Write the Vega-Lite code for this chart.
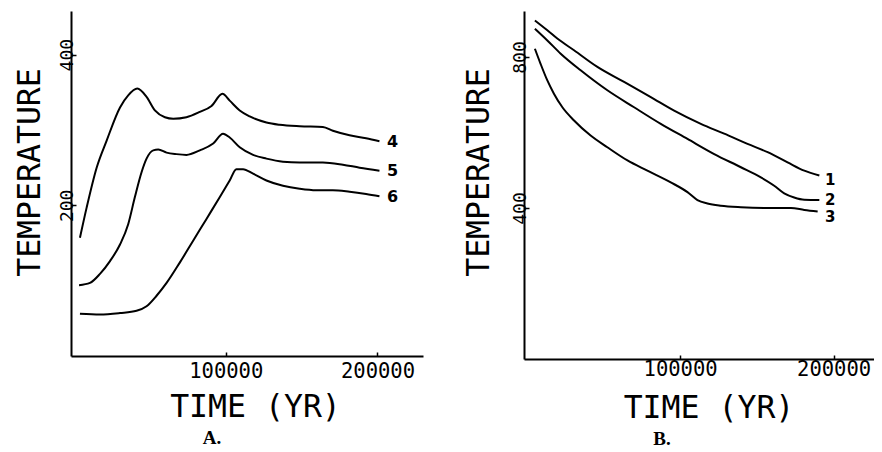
{
  "$schema": "https://vega.github.io/schema/vega-lite/v6.json",
  "padding": {"left": 14, "top": 11, "right": 0, "bottom": 0},
  "background": "white",
  "spacing": 101,
  "bounds": "flush",
  "config": {
    "view": {"stroke": null},
    "axis": {"grid": false, "domainColor": "black", "domainWidth": 2, "tickColor": "black", "tickWidth": 1.5, "labelColor": "black", "titleColor": "black", "labelFont": "DejaVu Sans Mono", "titleFont": "DejaVu Sans Mono", "titleFontWeight": "normal", "labelFlush": false, "labelOverlap": false},
    "axisX": {"labelFontSize": 20.5, "titleFontSize": 31.5, "tickSize": -4, "labelBaseline": "alphabetic", "labelPadding": 25, "titleX": 184, "titleY": 60, "titleBaseline": "alphabetic", "titleAlign": "center"},
    "axisY": {"labelAngle": 270, "labelFontSize": 18, "labelBaseline": "alphabetic", "labelAlign": "center", "tickSize": -5, "labelPadding": 4, "titleFontSize": 31.5, "titleAngle": 270, "titleBaseline": "alphabetic", "titleAlign": "center", "titleX": -32, "titleY": 161}
  },
  "hconcat": [
    {
      "width": 352,
      "height": 345,
      "title": {"text": "A.", "orient": "bottom", "anchor": "middle", "dx": -35, "offset": 6, "font": "Liberation Serif", "fontWeight": "bold", "fontSize": 19, "color": "black"},
      "layer": [
        {
          "data": {"values": [
            {"curve": "4", "time": 3900, "temperature": 157}, {"curve": "4", "time": 8300, "temperature": 197}, {"curve": "4", "time": 14900, "temperature": 250}, {"curve": "4", "time": 21500, "temperature": 286}, {"curve": "4", "time": 30300, "temperature": 330}, {"curve": "4", "time": 35700, "temperature": 346}, {"curve": "4", "time": 41700, "temperature": 355}, {"curve": "4", "time": 47800, "temperature": 344}, {"curve": "4", "time": 53300, "temperature": 326}, {"curve": "4", "time": 59900, "temperature": 317}, {"curve": "4", "time": 65400, "temperature": 315}, {"curve": "4", "time": 74100, "temperature": 317}, {"curve": "4", "time": 82900, "temperature": 324}, {"curve": "4", "time": 90600, "temperature": 332}, {"curve": "4", "time": 97800, "temperature": 348}, {"curve": "4", "time": 102600, "temperature": 339}, {"curve": "4", "time": 109200, "temperature": 326}, {"curve": "4", "time": 115800, "temperature": 318}, {"curve": "4", "time": 126800, "temperature": 310}, {"curve": "4", "time": 135500, "temperature": 307}, {"curve": "4", "time": 148700, "temperature": 305}, {"curve": "4", "time": 164000, "temperature": 304}, {"curve": "4", "time": 170600, "temperature": 299}, {"curve": "4", "time": 181600, "temperature": 293}, {"curve": "4", "time": 192500, "temperature": 289}, {"curve": "4", "time": 201300, "temperature": 285},
            {"curve": "5", "time": 3300, "temperature": 94}, {"curve": "5", "time": 10500, "temperature": 97}, {"curve": "5", "time": 17100, "temperature": 109}, {"curve": "5", "time": 23700, "temperature": 126}, {"curve": "5", "time": 30300, "temperature": 148}, {"curve": "5", "time": 35700, "temperature": 175}, {"curve": "5", "time": 40100, "temperature": 211}, {"curve": "5", "time": 44500, "temperature": 244}, {"curve": "5", "time": 47800, "temperature": 262}, {"curve": "5", "time": 52200, "temperature": 273}, {"curve": "5", "time": 55500, "temperature": 274}, {"curve": "5", "time": 61000, "temperature": 270}, {"curve": "5", "time": 67500, "temperature": 268}, {"curve": "5", "time": 74100, "temperature": 267}, {"curve": "5", "time": 82900, "temperature": 273}, {"curve": "5", "time": 91700, "temperature": 282}, {"curve": "5", "time": 98200, "temperature": 295}, {"curve": "5", "time": 102600, "temperature": 290}, {"curve": "5", "time": 109200, "temperature": 277}, {"curve": "5", "time": 118000, "temperature": 267}, {"curve": "5", "time": 126800, "temperature": 262}, {"curve": "5", "time": 137700, "temperature": 258}, {"curve": "5", "time": 148700, "temperature": 257}, {"curve": "5", "time": 164000, "temperature": 257}, {"curve": "5", "time": 177200, "temperature": 254}, {"curve": "5", "time": 188200, "temperature": 250}, {"curve": "5", "time": 201300, "temperature": 246},
            {"curve": "6", "time": 3900, "temperature": 56}, {"curve": "6", "time": 17100, "temperature": 55}, {"curve": "6", "time": 30300, "temperature": 57}, {"curve": "6", "time": 41200, "temperature": 60}, {"curve": "6", "time": 47800, "temperature": 66}, {"curve": "6", "time": 54400, "temperature": 80}, {"curve": "6", "time": 61000, "temperature": 97}, {"curve": "6", "time": 69700, "temperature": 124}, {"curve": "6", "time": 78500, "temperature": 153}, {"curve": "6", "time": 87300, "temperature": 182}, {"curve": "6", "time": 96100, "temperature": 211}, {"curve": "6", "time": 102600, "temperature": 233}, {"curve": "6", "time": 107000, "temperature": 248}, {"curve": "6", "time": 111400, "temperature": 248}, {"curve": "6", "time": 118000, "temperature": 242}, {"curve": "6", "time": 126800, "temperature": 233}, {"curve": "6", "time": 137700, "temperature": 226}, {"curve": "6", "time": 148700, "temperature": 222}, {"curve": "6", "time": 159600, "temperature": 220}, {"curve": "6", "time": 170600, "temperature": 220}, {"curve": "6", "time": 181600, "temperature": 218}, {"curve": "6", "time": 192500, "temperature": 215}, {"curve": "6", "time": 201300, "temperature": 212}
          ]},
          "mark": {"type": "line", "color": "black", "strokeWidth": 2, "interpolate": "monotone"},
          "encoding": {
            "x": {"field": "time", "type": "quantitative", "scale": {"domain": [-2000, 230000], "nice": false, "zero": false}, "axis": {"title": "TIME (YR)", "values": [100000, 200000], "format": "d"}},
            "y": {"field": "temperature", "type": "quantitative", "scale": {"domain": [0, 458], "nice": false}, "axis": {"title": "TEMPERATURE", "values": [200, 400], "format": "d"}},
            "detail": {"field": "curve"}
          }
        },
        {
          "data": {"values": [
            {"time": 210000, "temperature": 284, "label": "4"},
            {"time": 210000, "temperature": 245, "label": "5"},
            {"time": 210000, "temperature": 211, "label": "6"}
          ]},
          "mark": {"type": "text", "font": "DejaVu Sans", "fontWeight": "bold", "fontSize": 16, "align": "center", "baseline": "middle", "color": "black"},
          "encoding": {
            "x": {"field": "time", "type": "quantitative"},
            "y": {"field": "temperature", "type": "quantitative"},
            "text": {"field": "label"}
          }
        }
      ]
    },
    {
      "width": 350,
      "height": 348,
      "title": {"text": "B.", "orient": "bottom", "anchor": "middle", "dx": -37, "offset": 6, "font": "Liberation Serif", "fontWeight": "bold", "fontSize": 19, "color": "black"},
      "layer": [
        {
          "data": {"values": [
            {"curve": "1", "time": 5400, "temperature": 897}, {"curve": "1", "time": 13500, "temperature": 871}, {"curve": "1", "time": 20000, "temperature": 849}, {"curve": "1", "time": 30900, "temperature": 818}, {"curve": "1", "time": 46100, "temperature": 774}, {"curve": "1", "time": 63500, "temperature": 734}, {"curve": "1", "time": 80900, "temperature": 694}, {"curve": "1", "time": 96100, "temperature": 658}, {"curve": "1", "time": 113500, "temperature": 623}, {"curve": "1", "time": 128700, "temperature": 597}, {"curve": "1", "time": 143900, "temperature": 570}, {"curve": "1", "time": 157000, "temperature": 548}, {"curve": "1", "time": 170000, "temperature": 521}, {"curve": "1", "time": 180900, "temperature": 499}, {"curve": "1", "time": 190700, "temperature": 486},
            {"curve": "2", "time": 5400, "temperature": 875}, {"curve": "2", "time": 13500, "temperature": 844}, {"curve": "2", "time": 22200, "temperature": 809}, {"curve": "2", "time": 35200, "temperature": 765}, {"curve": "2", "time": 52600, "temperature": 712}, {"curve": "2", "time": 70000, "temperature": 667}, {"curve": "2", "time": 87400, "temperature": 623}, {"curve": "2", "time": 104800, "temperature": 583}, {"curve": "2", "time": 122200, "temperature": 543}, {"curve": "2", "time": 139600, "temperature": 508}, {"curve": "2", "time": 152600, "temperature": 481}, {"curve": "2", "time": 161300, "temperature": 459}, {"curve": "2", "time": 167800, "temperature": 439}, {"curve": "2", "time": 174300, "temperature": 428}, {"curve": "2", "time": 180900, "temperature": 422}, {"curve": "2", "time": 190700, "temperature": 421},
            {"curve": "3", "time": 5400, "temperature": 822}, {"curve": "3", "time": 9100, "temperature": 782}, {"curve": "3", "time": 13500, "temperature": 738}, {"curve": "3", "time": 17800, "temperature": 703}, {"curve": "3", "time": 23300, "temperature": 667}, {"curve": "3", "time": 30900, "temperature": 632}, {"curve": "3", "time": 41700, "temperature": 592}, {"curve": "3", "time": 52600, "temperature": 561}, {"curve": "3", "time": 65700, "temperature": 526}, {"curve": "3", "time": 78700, "temperature": 499}, {"curve": "3", "time": 93900, "temperature": 468}, {"curve": "3", "time": 104800, "temperature": 442}, {"curve": "3", "time": 111300, "temperature": 421}, {"curve": "3", "time": 117800, "temperature": 412}, {"curve": "3", "time": 126500, "temperature": 406}, {"curve": "3", "time": 139600, "temperature": 402}, {"curve": "3", "time": 157000, "temperature": 400}, {"curve": "3", "time": 172200, "temperature": 400}, {"curve": "3", "time": 180900, "temperature": 395}, {"curve": "3", "time": 189600, "temperature": 391}
          ]},
          "mark": {"type": "line", "color": "black", "strokeWidth": 2, "interpolate": "monotone"},
          "encoding": {
            "x": {"field": "time", "type": "quantitative", "scale": {"domain": [-1700, 226300], "nice": false, "zero": false}, "axis": {"title": "TIME (YR)", "values": [100000, 200000], "format": "d", "titleX": 184.5, "titleY": 58, "labelPadding": 20}},
            "y": {"field": "temperature", "type": "quantitative", "scale": {"domain": [0, 922], "nice": false}, "axis": {"title": "TEMPERATURE", "values": [400, 800], "format": "d", "titleX": -36, "titleY": 161}},
            "detail": {"field": "curve"}
          }
        },
        {
          "data": {"values": [
            {"time": 197800, "temperature": 473, "label": "1"},
            {"time": 197800, "temperature": 420, "label": "2"},
            {"time": 197800, "temperature": 375, "label": "3"}
          ]},
          "mark": {"type": "text", "font": "DejaVu Sans", "fontWeight": "bold", "fontSize": 15, "align": "center", "baseline": "middle", "color": "black"},
          "encoding": {
            "x": {"field": "time", "type": "quantitative"},
            "y": {"field": "temperature", "type": "quantitative"},
            "text": {"field": "label"}
          }
        }
      ]
    }
  ]
}
